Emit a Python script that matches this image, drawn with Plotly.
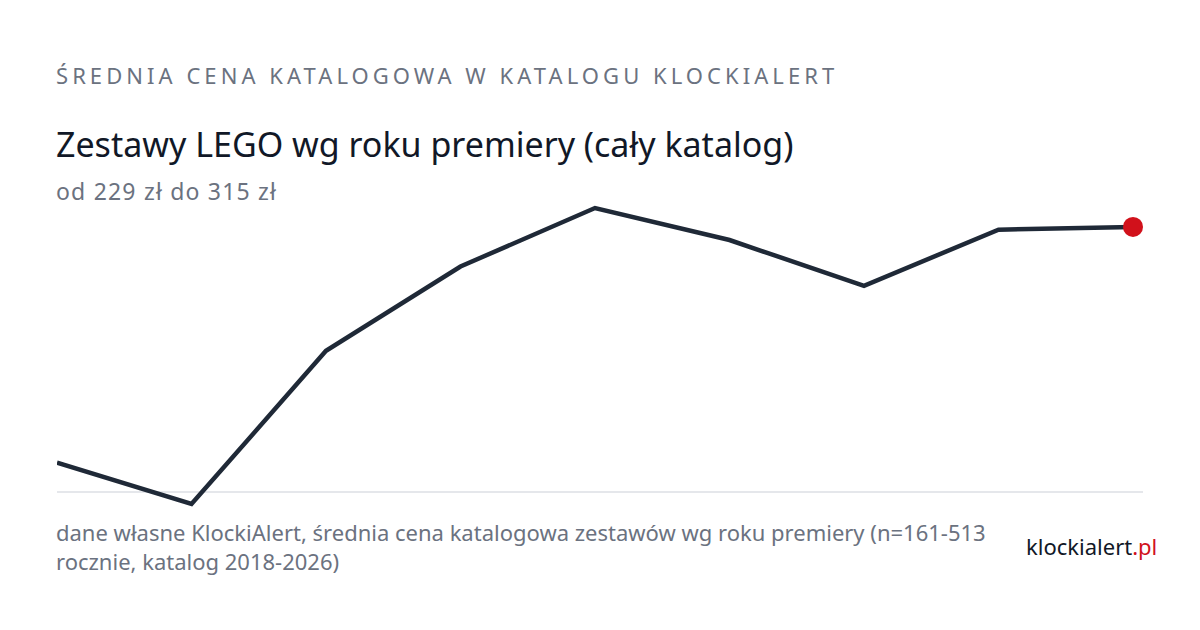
import plotly.graph_objects as go

years = [2018, 2019, 2020, 2021, 2022, 2023, 2024, 2025, 2026]
avg_price = [241, 229, 273.5, 298, 315, 305.7, 292.4, 308.7, 309.5]

header = "ŚREDNIA CENA KATALOGOWA W KATALOGU KLOCKIALERT"
title = "Zestawy LEGO wg roku premiery (cały katalog)"
subtitle = "od 229 zł do 315 zł"
footnote = "dane własne KlockiAlert, średnia cena katalogowa zestawów wg roku premiery (n=161-513<br>rocznie, katalog 2018-2026)"

W, H = 1200, 630
OFF = 8  # page body margin
PT, PB = 200, 510  # plot area top/bottom in screen pixels
PL, PR = 57, 1133


def py(pix):
    return (PB - pix) / (PB - PT)


def px(pix):
    return (pix - PL) / (PR - PL)


fig = go.Figure()
fig.add_trace(go.Scatter(
    x=years, y=avg_price, mode="lines",
    line=dict(color="#1f2937", width=4.5), hoverinfo="skip", showlegend=False,
))
fig.add_trace(go.Scatter(
    x=[years[-1]], y=[avg_price[-1]], mode="markers",
    marker=dict(color="#d1111b", size=20), cliponaxis=False,
    hoverinfo="skip", showlegend=False,
))

fig.add_shape(type="line", xref="paper", yref="paper",
              x0=0, x1=px(1143), y0=py(492), y1=py(492),
              line=dict(color="#e5e7eb", width=2), layer="below")

font = "Noto Sans"
anns = [
    dict(text="<span style='letter-spacing:4.05px'>" + header + "</span>",
         x=px(54), y=py(75), size=22, color="#6b7280", xanchor="left"),
    dict(text=title, x=px(54), y=py(144), size=34, color="#111827", xanchor="left"),
    dict(text="<span style='letter-spacing:1.2px'>" + subtitle + "</span>",
         x=px(54), y=py(191), size=23, color="#6b7280", xanchor="left"),
    dict(text=footnote, x=px(54), y=py(546), size=22, color="#6b7280", xanchor="left"),
    dict(text="klockialert<span style='color:#d1111b'>.pl</span>", x=px(1159), y=py(546),
         size=22, color="#111827", xanchor="right"),
]
for a in anns:
    fig.add_annotation(text=a["text"], x=a["x"], y=a["y"], xref="paper", yref="paper",
                       xanchor=a["xanchor"], yanchor="middle", showarrow=False, align="left",
                       font=dict(family=font, size=a["size"], color=a["color"]))

fig.update_layout(
    width=W, height=H, paper_bgcolor="white", plot_bgcolor="white",
    margin=dict(l=PL - OFF, r=W - (PR - OFF), t=PT - OFF, b=H - (PB - OFF)),
    xaxis=dict(range=[2018, 2026], visible=False, fixedrange=True),
    yaxis=dict(range=[229 - 6 / 3.44, 315 + 8 / 3.44], visible=False, fixedrange=True),
    font=dict(family=font),
)

fig.write_html("out.html", config={"displayModeBar": False})
